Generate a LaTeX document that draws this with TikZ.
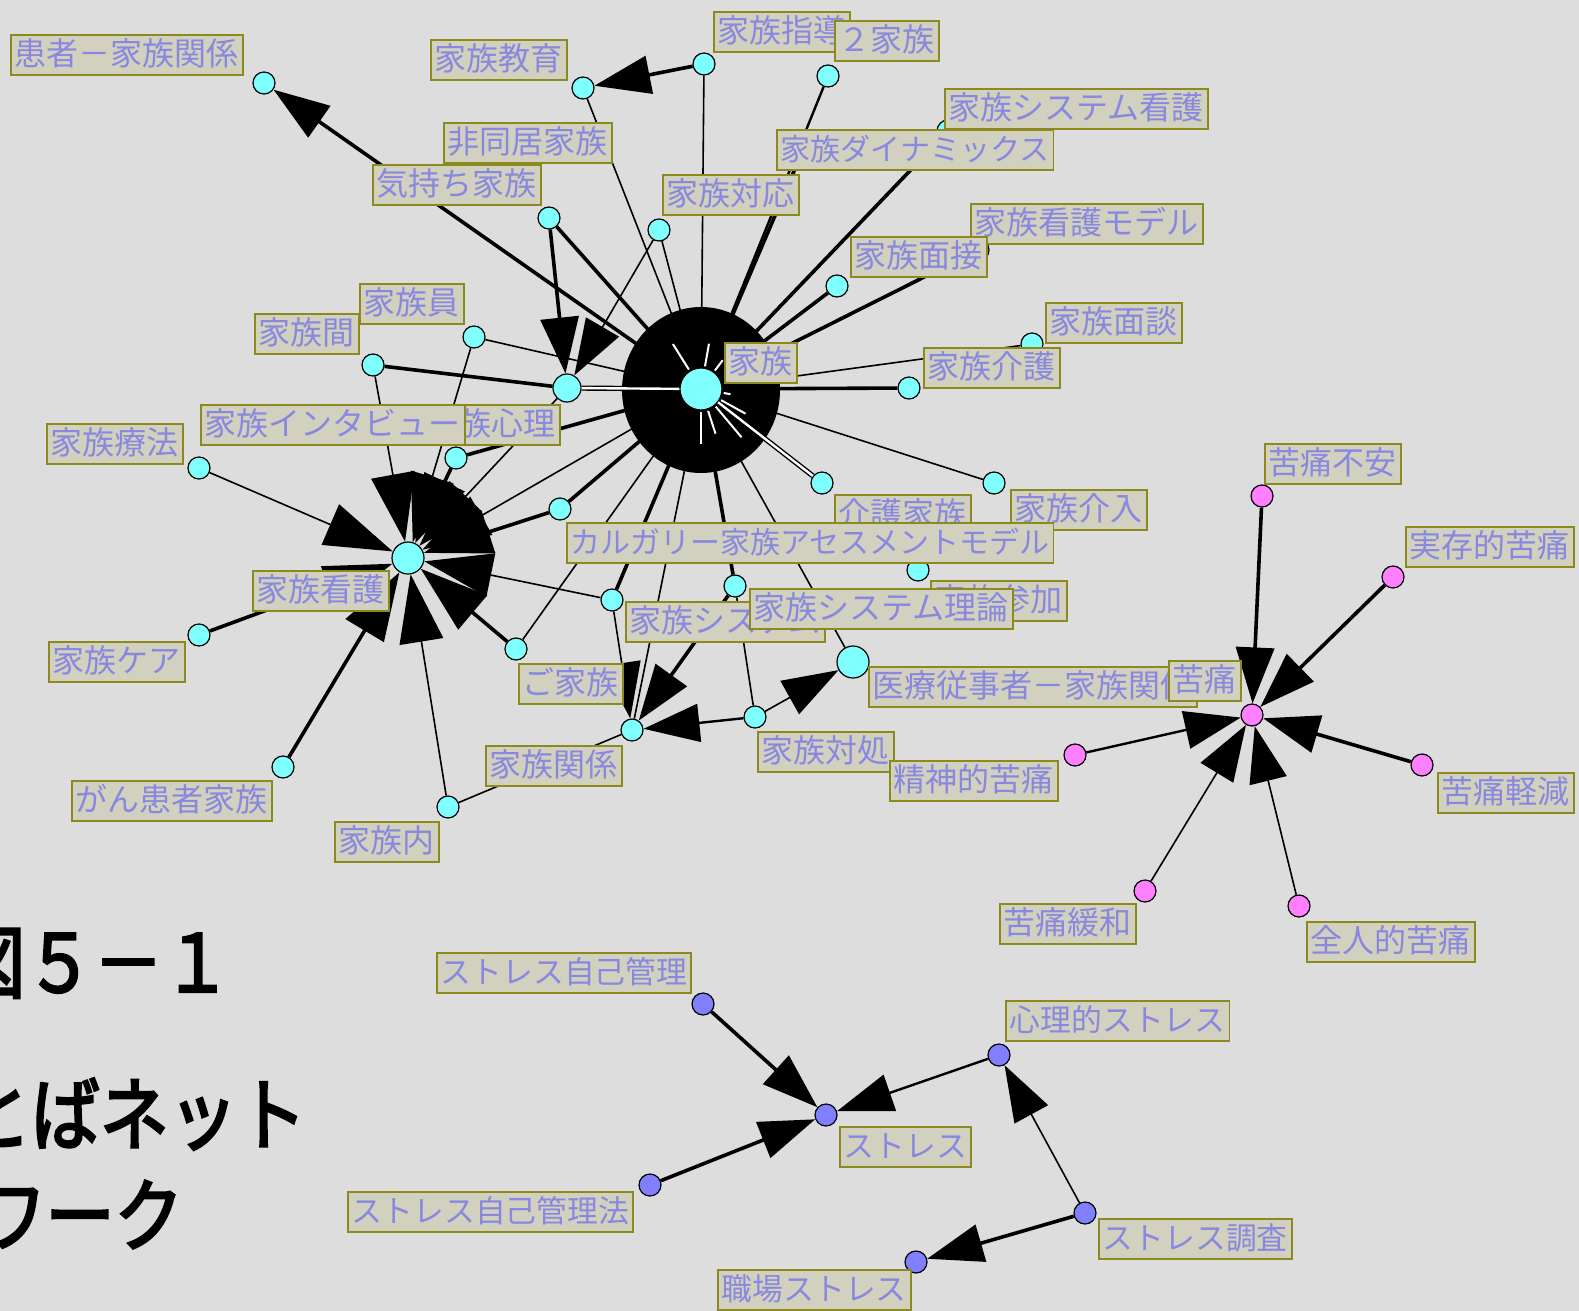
\documentclass[tikz,border=0pt]{standalone}
\usepackage{fontspec}
\usepackage{tikz}
\usetikzlibrary{arrows.meta}

\newfontfamily\jpfont{Noto Sans CJK JP}
\newfontfamily\titlefont[FakeStretch=0.86, FakeBold=3]{Noto Sans CJK JP}

\definecolor{paper}{RGB}{221,221,221}
\definecolor{lblfill}{RGB}{210,208,190}
\definecolor{lbldraw}{RGB}{140,138,30}
\definecolor{lbltext}{RGB}{136,136,224}
\definecolor{cyandot}{RGB}{128,255,255}
\definecolor{pinkdot}{RGB}{255,128,255}
\definecolor{bluedot}{RGB}{128,128,255}

\tikzset{
  lbl/.style={draw=lbldraw, line width=0.9pt, fill=lblfill, text=lbltext, anchor=north west,
    font=\jpfont\fontsize{16}{16}\selectfont, inner xsep=2pt, inner ysep=1.5pt,
    text height=14pt, text depth=3pt},
  lbls/.style={lbl, font=\jpfont\fontsize{15}{16}\selectfont},
  lblm/.style={lbl, font=\jpfont\fontsize{15.4}{16}\selectfont},
  dot/.style={circle, draw=black, line width=0.6pt, fill=cyandot, inner sep=0pt, minimum size=11pt},
  pdot/.style={dot, fill=pinkdot},
  bdot/.style={dot, fill=bluedot},
  thn/.style={draw=black, line width=0.8pt},
  mid/.style={draw=black, line width=1.2pt},
  thk/.style={draw=black, line width=1.8pt},
  dbl/.style={draw=black, line width=0.7pt, double=white, double distance=1.2pt},
  arr/.style={-{Triangle[length=28pt,width=19pt]}},
  arrb/.style={-{Triangle[length=34pt,width=22pt]}},
  ttl/.style={font=\titlefont\fontsize{40}{40}\selectfont, anchor=base, inner sep=0pt}
}

\begin{document}
\begin{tikzpicture}[x=0.5pt,y=0.5pt,yscale=-1,xscale=1]
%set diagram left start at 0, size of the screenshot
\useasboundingbox (0,0) rectangle (1579,1311);
\clip (0,0) rectangle (1579,1311);
\fill[paper] (0,0) rectangle (1579,1311);

%Shape: Ellipse, the heap of arrow heads round the main word
\coordinate (heap) at (701,390);
\fill[black] (heap) ellipse [x radius=79, y radius=83];

% Word nodes, first network
\node[dot] (kanja) at (264,83) {};
\node[dot] (kyoiku) at (583,88) {};
\node[dot] (shido) at (704,64) {};
\node[dot] (nika) at (828,76) {};
\node[dot] (kimochi) at (549,218) {};
\node[dot] (taio) at (659,230) {};
\node[dot] (dyn) at (803,150) {};
\node[dot] (sysk) at (948,131) {};
\node[dot] (mensetsu) at (837,286) {};
\node[dot] (kmodel) at (978,250) {};
\node[dot] (mendan) at (1032,344) {};
\node[dot] (kaigo) at (909,388) {};
\node[dot, minimum size=21pt] (kazoku) at (701,389) {};
\node[dot, minimum size=14pt] (hub2) at (567,388) {};
\node[dot] (kin) at (474,337) {};
\node[dot] (kan) at (373,365) {};
\node[dot] (shinri) at (456,458) {};
\node[dot] (ryoho) at (199,468) {};
\node[dot, minimum size=16pt] (kango) at (408,558) {};
\node[dot] (calg) at (560,509) {};
\node[dot] (care) at (199,635) {};
\node[dot] (gan) at (283,767) {};
\node[dot] (nai) at (448,807) {};
\node[dot] (go) at (516,649) {};
\node[dot] (sys) at (612,600) {};
\node[dot] (riron) at (735,586) {};
\node[dot] (kankei) at (632,730) {};
\node[dot] (taisho) at (755,717) {};
\node[dot, minimum size=16pt] (iryo) at (853,662) {};
\node[dot] (kaigok) at (822,483) {};
\node[dot] (kainyu) at (994,483) {};
\node[dot] (sanka) at (918,570) {};

% Word nodes, pain
\node[pdot] (kutsu) at (1252,715) {};
\node[pdot] (fuan) at (1262,496) {};
\node[pdot] (jitsu) at (1393,577) {};
\node[pdot] (keigen) at (1422,765) {};
\node[pdot] (zenjin) at (1299,906) {};
\node[pdot] (kanwa) at (1145,891) {};
\node[pdot] (seishin) at (1075,755) {};

% Word nodes, stress
\node[bdot] (stress) at (826,1115) {};
\node[bdot] (jiko) at (703,1004) {};
\node[bdot] (jikoho) at (650,1185) {};
\node[bdot] (shinris) at (999,1055) {};
\node[bdot] (chosa) at (1085,1213) {};
\node[bdot] (shokuba) at (916,1262) {};

%Straight Lines into the main word
\draw[thk] (kimochi) -- (kazoku);
\draw[thn] (kyoiku) -- (kazoku);
\draw[thn] (taio) -- (kazoku);
\draw[thn] (shido) -- (kazoku);
\draw[mid] (nika) -- (kazoku);
\draw[thk] (dyn) -- (kazoku);
\draw[thk] (sysk) -- (kazoku);
\draw[thk] (mensetsu) -- (kazoku);
\draw[thk] (kmodel) -- (kazoku);
\draw[thn] (mendan) -- (kazoku);
\draw[thk] (kaigo) -- (kazoku);
\draw[thn] (kainyu) -- (kazoku);
\draw[thn] (iryo) -- (kazoku);
\draw[thk] (riron) -- (kazoku);
\draw[thk] (sys) -- (kazoku);
\draw[thk] (calg) -- (kazoku);
\draw[thn] (go) -- (kazoku);
\draw[thk] (shinri) -- (kazoku);
\draw[thn] (kin) -- (kazoku);
\draw[thn] (kankei) -- (kazoku);
\draw[dbl] (hub2) -- (kazoku);
\draw[dbl] (kaigok) -- (kazoku);
%Straight Lines with heads
\draw[thk, arr] (kazoku) -- (kanja);
\draw[thk, arr] (shido) -- (kyoiku);
\draw[thk, arr] (kimochi) -- (hub2);
\draw[thn, arr] (taio) -- (hub2);
\draw[thk] (kan) -- (hub2);
\draw[thn, arrb] (kazoku) -- (kango);
\draw[thn, arrb] (hub2) -- (kango);
\draw[thn, arrb] (kin) -- (kango);
\draw[thn, arrb] (kan) -- (kango);
\draw[thk, arrb] (shinri) -- (kango);
\draw[thn, arrb] (ryoho) -- (kango);
\draw[thk, arrb] (calg) -- (kango);
\draw[thk, arrb] (go) -- (kango);
\draw[thn, arrb] (nai) -- (kango);
\draw[thk, arrb] (gan) -- (kango);
\draw[thk, arrb] (care) -- (kango);
\draw[thn, arrb] (sys) -- (kango);
\draw[thn, arr] (sys) -- (kankei);
\draw[thk, arr] (riron) -- (kankei);
\draw[thn] (riron) -- (taisho);
\draw[mid, arr] (taisho) -- (kankei);
\draw[thn, arr] (taisho) -- (iryo);
\draw[thn] (nai) -- (kankei);

%Straight Lines, pain
\draw[thk, arr] (fuan) -- (kutsu);
\draw[thk, arr] (jitsu) -- (kutsu);
\draw[thk, arr] (keigen) -- (kutsu);
\draw[thn, arr] (zenjin) -- (kutsu);
\draw[thn, arr] (kanwa) -- (kutsu);
\draw[mid, arr] (seishin) -- (kutsu);

%Straight Lines, stress
\draw[thk, arr] (jiko) -- (stress);
\draw[thk, arr] (jikoho) -- (stress);
\draw[mid, arr] (shinris) -- (stress);
\draw[thn, arr] (chosa) -- (shinris);
\draw[thk, arr] (chosa) -- (shokuba);

% white gaps between the heads in the heap
\foreach \a/\r in {-122/53, -80/46, -53/36, 10/30, 29/51, 50/63, 72/47, 90/55}
  \draw[white, line width=1pt] (kazoku.center) ++(\a:23) -- ++(\a:\r-23);

% Text Node
\node[lbl] (lkanja) at (10,34) {患者－家族関係};
\node[lbl] (lkyoiku) at (430,39) {家族教育};
\node[lbl] (lshido) at (713,11) {家族指導};
\node[lbl] (lnika) at (834,20) {２家族};
\node[lbl] (lhidokyo) at (443,122) {非同居家族};
\node[lbl] (lkimochi) at (372,164) {気持ち家族};
\node[lbl] (lsysk) at (944,88) {家族システム看護};
\node[lbls] (ldyn) at (776,129) {家族ダイナミックス};
\node[lbl] (ltaio) at (662,174) {家族対応};
\node[lbl] (lkmodel) at (970,203) {家族看護モデル};
\node[lbl] (lmensetsu) at (850,236) {家族面接};
\node[lbl] (lmendan) at (1045,302) {家族面談};
\node[lbl] (lkaigo) at (923,347) {家族介護};
\node[lbl] (lkazoku) at (724,342) {家族};
\node[lbl] (lkin) at (359,283) {家族員};
\node[lbl] (lkan) at (254,313) {家族間};
\node[lbl] (lshinri) at (423,404) {家族心理};
\node[lbl] (liv) at (200,404) {家族インタビュー};
\node[lbl] (lryoho) at (46,423) {家族療法};
\node[lbl] (lkango) at (252,570) {家族看護};
\node[lbl] (lcare) at (48,641) {家族ケア};
\node[lbl] (lgan) at (71,780) {がん患者家族};
\node[lbl] (lnai) at (334,821) {家族内};
\node[lbl] (lkankei) at (485,745) {家族関係};
\node[lbl] (lgo) at (518,663) {ご家族};
\node[lbl] (lsys) at (625,601) {家族システム};
\node[lbl] (lsanka) at (930,580) {家族参加};
\node[lbl] (lriron) at (749,588) {家族システム理論};
\node[lbl] (lkaigok) at (834,494) {介護家族};
\node[lbl] (lkainyu) at (1010,489) {家族介入};
\node[lbls] (lcalg) at (566,522) {カルガリー家族アセスメントモデル};
\node[lbl] (ltaisho) at (757,731) {家族対処};
\node[lbl] (liryo) at (868,666) {医療従事者－家族関係};
\node[lbl] (lkutsu) at (1168,660) {苦痛};
\node[lbl] (lfuan) at (1264,443) {苦痛不安};
\node[lbl] (ljitsu) at (1405,526) {実存的苦痛};
\node[lbl] (lkeigen) at (1437,772) {苦痛軽減};
\node[lbl] (lzenjin) at (1306,921) {全人的苦痛};
\node[lbl] (lkanwa) at (999,903) {苦痛緩和};
\node[lbl] (lseishin) at (889,760) {精神的苦痛};
\node[lblm] (lstress) at (839,1126) {ストレス};
\node[lblm] (ljiko) at (436,952) {ストレス自己管理};
\node[lblm] (ljikoho) at (347,1191) {ストレス自己管理法};
\node[lblm] (lshinris) at (1005,1000) {心理的ストレス};
\node[lblm] (lchosa) at (1098,1218) {ストレス調査};
\node[lblm] (lshokuba) at (717,1269) {職場ストレス};

% Text Node, caption at the left edge
\node[ttl] (title1) at (94,992) {図５－１};
\node[ttl] (title2) at (100,1144) {ことばネット};
\node[ttl] (title3) at (80,1245) {ワーク};

\end{tikzpicture}
\end{document}
